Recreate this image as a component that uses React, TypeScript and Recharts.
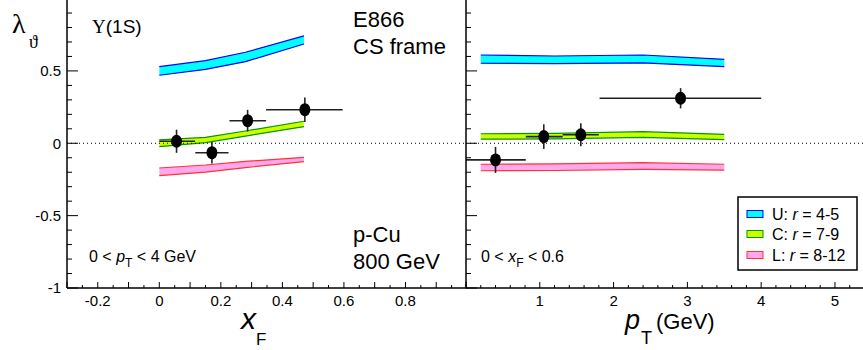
import { ComposedChart, Area, Scatter, ErrorBar, XAxis, YAxis, ReferenceLine } from 'recharts';

// bands (model curves) vs xF, [low, high] of lambda_theta
const xfBandX = [0, 0.15, 0.28, 0.47];
const xfBandU = [[0.47, 0.529], [0.511, 0.571], [0.564, 0.629], [0.686, 0.742]];
const xfBandC = [[-0.023, 0.023], [0.004, 0.041], [0.05, 0.085], [0.115, 0.152]];
const xfBandL = [[-0.224, -0.171], [-0.2, -0.15], [-0.168, -0.125], [-0.127, -0.097]];

// bands vs pT
const ptBandX = [0.2, 1.2, 2.4, 3.5];
const ptBandU = [[0.553, 0.61], [0.55, 0.603], [0.555, 0.61], [0.53, 0.58]];
const ptBandC = [[0.028, 0.066], [0.03, 0.068], [0.041, 0.08], [0.025, 0.062]];
const ptBandL = [[-0.19, -0.145], [-0.188, -0.142], [-0.18, -0.134], [-0.185, -0.145]];

// E866 data points
const xfCenters = [0.056, 0.171, 0.287, 0.473];
const xfBinLow = [0, 0.117, 0.228, 0.347];
const xfBinHigh = [0.116, 0.225, 0.347, 0.596];
const xfLambda = [0.014, -0.065, 0.156, 0.232];
const xfLambdaErr = [0.08, 0.075, 0.075, 0.085];

const ptCenters = [0.4, 1.054, 1.556, 2.908];
const ptBinLow = [0, 0.81, 1.31, 1.81];
const ptBinHigh = [0.81, 1.31, 1.8, 4.0];
const ptLambda = [-0.115, 0.046, 0.059, 0.311];
const ptLambdaErr = [0.09, 0.085, 0.08, 0.07];

// tick labels
const lamLabels = [-1, -0.5, 0, 0.5];
const xfLabels = [-0.2, 0, 0.2, 0.4, 0.6, 0.8];
const ptLabels = [1, 2, 3, 4, 5];

const FONT = '"Liberation Sans", Arial, Helvetica, sans-serif';
const SERIF = '"Liberation Serif", "DejaVu Serif", serif';

const bands = [
  { key: 'u', fill: '#00ffff', stroke: '#0000ff', name: 'U', r: '4-5' },
  { key: 'c', fill: '#ccff00', stroke: '#009900', name: 'C', r: '7-9' },
  { key: 'l', fill: '#ffa8ee', stroke: '#ff3333', name: 'L', r: '8-12' },
];

const steps = (a: number, b: number, s: number) => {
  const out: number[] = [];
  for (let i = 0; a + i * s <= b + 1e-9; i++) out.push(Math.round((a + i * s) * 1000) / 1000);
  return out;
};

const bandRows = (xs: number[], u: number[][], c: number[][], l: number[][]) =>
  xs.map((x, i) => ({ x, u: u[i], c: c[i], l: l[i] }));

const pointRows = (xs: number[], lo: number[], hi: number[], lam: number[], err: number[]) =>
  xs.map((x, i) => ({ x, y: lam[i], ex: [x - lo[i], hi[i] - x], ey: err[i] }));

const near = (a: number, b: number) => Math.abs(a - b) < 1e-6;

const YTick = (props: any) => {
  const { x, y, payload, labels } = props;
  const v = payload.value;
  const major = near(v * 2, Math.round(v * 2));
  const show = labels && lamLabels.some((l) => near(l, v));
  return (
    <g>
      <line x1={x} x2={x + (major ? 11 : 5)} y1={y} y2={y} stroke="#000" strokeWidth={1} />
      {show && (
        <text x={x - 6} y={y} dy="0.36em" textAnchor="end" fontSize={15} fontFamily={FONT} fill="#000">
          {String(v)}
        </text>
      )}
    </g>
  );
};

const XTick = (props: any) => {
  const { x, y, payload, labels, majorStep } = props;
  const v = payload.value;
  const major = near(v / majorStep, Math.round(v / majorStep));
  const show = labels.some((l: number) => near(l, v));
  return (
    <g>
      <line x1={x} x2={x} y1={y} y2={y - (major ? 6 : 3)} stroke="#000" strokeWidth={1} />
      {show && (
        <text x={x} y={y + 17.5} textAnchor="middle" fontSize={15} fontFamily={FONT} fill="#000">
          {String(v)}
        </text>
      )}
    </g>
  );
};

const Dot = (props: any) => <ellipse cx={props.cx} cy={props.cy} rx={5.5} ry={6.5} fill="#000" />;

function Panel(props: any) {
  const { left, width, yWidth, xDomain, xTicks, xLabels, majorStep, yLabels, rows, points } = props;
  return (
    <div style={{ position: 'absolute', left, top: 0 }}>
      <ComposedChart width={width} height={350} data={rows} margin={{ top: 0, right: 0, bottom: 0, left: 0 }}>
        <XAxis
          dataKey="x"
          type="number"
          domain={xDomain}
          allowDataOverflow
          ticks={xTicks}
          interval={0}
          height={62}
          tickSize={0}
          tickMargin={0}
          axisLine={{ stroke: '#000', strokeWidth: 1.5 }}
          tickLine={false}
          tick={(p: any) => <XTick {...p} labels={xLabels} majorStep={majorStep} />}
        />
        <YAxis
          type="number"
          domain={[-1, 0.99]}
          allowDataOverflow
          ticks={steps(-1, 0.9, 0.1)}
          interval={0}
          width={yWidth}
          tickSize={0}
          tickMargin={0}
          axisLine={{ stroke: '#000', strokeWidth: 1.5 }}
          tickLine={false}
          tick={(p: any) => <YTick {...p} labels={yLabels} />}
        />
        {bands.map((b) => (
          <Area
            key={b.key}
            type="linear"
            dataKey={b.key}
            stroke={b.stroke}
            strokeWidth={1.2}
            fill={b.fill}
            fillOpacity={1}
            dot={false}
            activeDot={false}
            isAnimationActive={false}
          />
        ))}
        <ReferenceLine y={0} stroke="#000" strokeWidth={1} strokeDasharray="1 3" />
        <Scatter data={points} dataKey="y" shape={Dot} isAnimationActive={false}>
          <ErrorBar dataKey="ex" direction="x" width={0} stroke="#222" strokeWidth={1.6} />
          <ErrorBar dataKey="ey" direction="y" width={0} stroke="#222" strokeWidth={1.6} />
        </Scatter>
      </ComposedChart>
    </div>
  );
}

function Overlay() {
  const t = { fontFamily: FONT, fill: '#000' };
  return (
    <svg width={863} height={350} style={{ position: 'absolute', left: 0, top: 0, pointerEvents: 'none' }}>
      <text x={12} y={33} fontSize={28} fontFamily={SERIF}>λ</text>
      <text x={29} y={48} fontSize={18} fontFamily={SERIF}>ϑ</text>
      <text x={92} y={33} fontSize={19} {...t}>
        <tspan fontFamily={SERIF}>Υ</tspan>(1S)
      </text>
      <text x={353} y={27} fontSize={22} {...t}>E866</text>
      <text x={353} y={54} fontSize={22} {...t}>CS frame</text>
      <text x={353} y={242} fontSize={22} {...t}>p-Cu</text>
      <text x={353} y={269} fontSize={22} {...t}>800 GeV</text>
      <text x={89} y={262} fontSize={16} {...t}>
        0 &lt; <tspan fontStyle="italic">p</tspan>
        <tspan fontSize={12} dy={5}>T</tspan>
        <tspan dy={-5}> &lt; 4 GeV</tspan>
      </text>
      <text x={481} y={262} fontSize={16} {...t}>
        0 &lt; <tspan fontStyle="italic">x</tspan>
        <tspan fontSize={12} dy={5}>F</tspan>
        <tspan dy={-5}> &lt; 0.6</tspan>
      </text>
      <text x={241} y={329} fontSize={30} fontStyle="italic" {...t}>x</text>
      <text x={256} y={345} fontSize={17} {...t}>F</text>
      <text x={625} y={329} fontSize={27} fontStyle="italic" {...t}>p</text>
      <text x={641} y={344} fontSize={18} {...t}>T</text>
      <text x={656} y={329} fontSize={22} {...t}>(GeV)</text>
      <rect x={738} y={197} width={119} height={73} fill="#fff" stroke="#000" strokeWidth={1.5} />
      {bands.map((b, i) => {
        const cy = [214, 234, 255][i];
        return (
          <g key={b.key}>
            <rect x={747} y={cy - 3.5} width={16} height={7} fill={b.fill} stroke={b.stroke} strokeWidth={1} />
            <text x={772} y={cy + 5.5} fontSize={16} {...t}>
              {b.name}: <tspan fontStyle="italic">r</tspan> = {b.r}
            </text>
          </g>
        );
      })}
    </svg>
  );
}

export default function App() {
  const xfRows = bandRows(xfBandX, xfBandU, xfBandC, xfBandL);
  const ptRows = bandRows(ptBandX, ptBandU, ptBandC, ptBandL);
  const xfPoints = pointRows(xfCenters, xfBinLow, xfBinHigh, xfLambda, xfLambdaErr);
  const ptPoints = pointRows(ptCenters, ptBinLow, ptBinHigh, ptLambda, ptLambdaErr);
  return (
    <div style={{ position: 'absolute', left: 0, top: 0, width: 863, height: 350, background: '#fff' }}>
      <Panel
        left={0}
        width={467}
        yWidth={67}
        xDomain={[-0.3, 1.0]}
        xTicks={steps(-0.3, 1.0, 0.05)}
        xLabels={xfLabels}
        majorStep={0.1}
        yLabels
        rows={xfRows}
        points={xfPoints}
      />
      <Panel
        left={465}
        width={398}
        yWidth={1}
        xDomain={[0, 5.38]}
        xTicks={steps(0, 5.2, 0.2)}
        xLabels={ptLabels}
        majorStep={1}
        yLabels={false}
        rows={ptRows}
        points={ptPoints}
      />
      <Overlay />
    </div>
  );
}
